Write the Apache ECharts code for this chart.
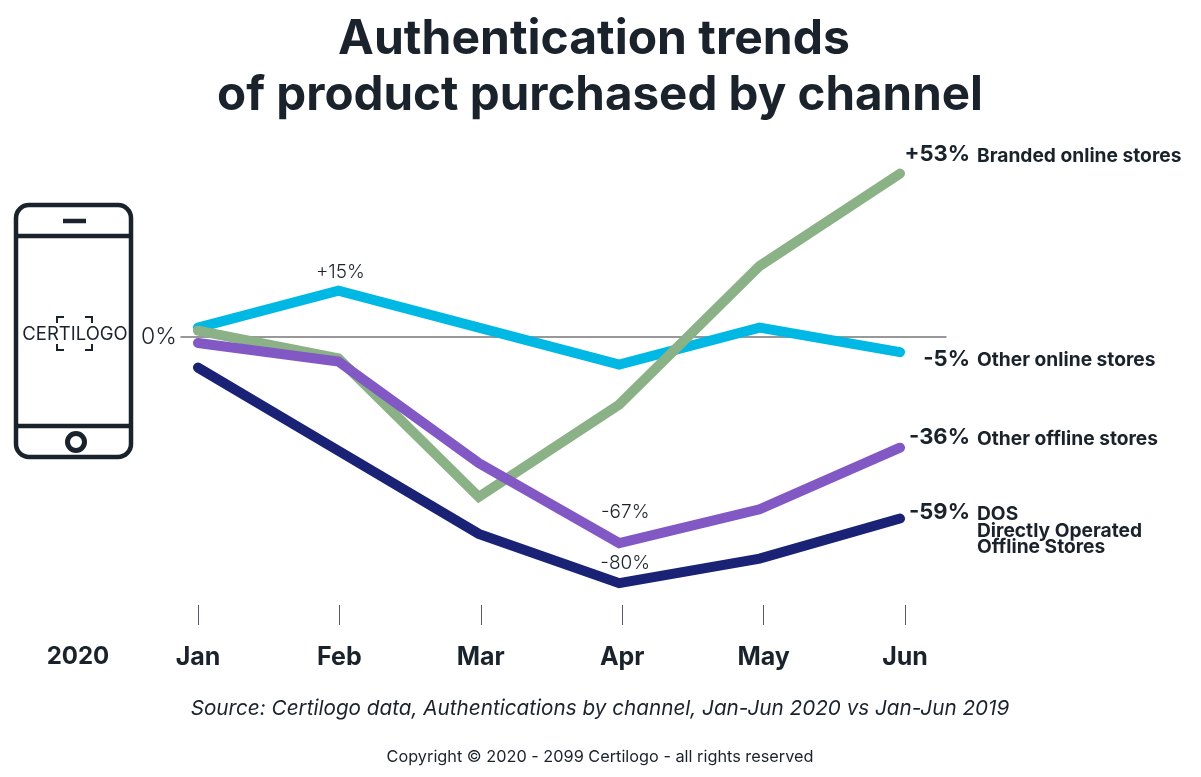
<!DOCTYPE html>
<html>
<head>
<meta charset="utf-8">
<title>Authentication trends</title>
<script src="https://cdn.jsdelivr.net/npm/echarts@6/dist/echarts.min.js"></script>
<style>
html, body { margin: 0; padding: 0; background: #fff; }
#main { width: 1201px; height: 777px; }
</style>
</head>
<body>
<div id="main"></div>
<script>
var months = ['Jan', 'Feb', 'Mar', 'Apr', 'May', 'Jun'];
var dos = [-10, -37, -64, -80, -72, -59];
var otherOnline = [3, 15, 3, -9, 3, -5];
var branded = [2, -7, -52, -22, 23, 53];
var otherOffline = [-2, -8, -41, -67, -56, -36];

var endPercents = ['+53%', '-5%', '-36%', '-59%'];
var endNames = ['Branded online stores', 'Other online stores', 'Other offline stores', 'DOS\nDirectly Operated\nOffline Stores'];

var FONT = 'Inter';
var DARK = '#1a222c';

// pixels per percent comes from the hidden y axes: 462px for 150 points
var plotTop = 152;
var plotHeight = 462;

function lineSeries(name, values, color, notes, noteOffset) {
    return {
        name: name,
        type: 'line',
        xAxisIndex: 0,
        yAxisIndex: 0,
        symbol: 'none',
        silent: true,
        animation: false,
        lineStyle: { color: color, width: 10, cap: 'round', join: 'miter' },
        data: values.map(function (v, i) {
            if (notes && notes[i]) {
                return {
                    value: v,
                    symbol: 'circle',
                    symbolSize: 0,
                    label: {
                        show: true,
                        position: 'top',
                        formatter: notes[i],
                        offset: noteOffset,
                        fontFamily: FONT,
                        fontWeight: 300,
                        fontSize: 19,
                        color: DARK
                    }
                };
            }
            return v;
        })
    };
}

function txt(x, y, text, size, weight, align, extra) {
    var style = {
        x: x, y: y, text: text,
        fontFamily: FONT, fontSize: size, fontWeight: weight,
        fill: DARK, textAlign: align, textVerticalAlign: 'middle'
    };
    for (var k in (extra || {})) style[k] = extra[k];
    return { type: 'text', style: style, silent: true };
}

function stroke(shapeType, shape, width) {
    return {
        type: shapeType, shape: shape, silent: true,
        style: { fill: 'none', stroke: DARK, lineWidth: width }
    };
}

// phone icon with the logo inside
var phone = [
    stroke('rect', { x: 16, y: 205, width: 115, height: 252, r: 13 }, 4.5),
    stroke('line', { x1: 16, y1: 236, x2: 131, y2: 236 }, 4.5),
    stroke('line', { x1: 16, y1: 426, x2: 131, y2: 426 }, 4.5),
    stroke('line', { x1: 63, y1: 221, x2: 86, y2: 221 }, 4.5),
    stroke('circle', { cx: 76, cy: 442, r: 8.5 }, 5),
    stroke('polyline', { points: [[57, 323], [57, 317], [64, 317]] }, 2),
    stroke('polyline', { points: [[85, 317], [92, 317], [92, 323]] }, 2),
    stroke('polyline', { points: [[57, 344], [57, 350], [64, 350]] }, 2),
    stroke('polyline', { points: [[85, 350], [92, 350], [92, 344]] }, 2),
    txt(75, 334, 'CERTILOGO', 18.5, 400, 'center')
];

var endY = [154, 359, 437, 512];
var nameY = [156, 360, 439, 531];
var endText = [];
endPercents.forEach(function (p, i) {
    endText.push(txt(970, endY[i], p, 22, 700, 'right'));
    endText.push(txt(977, nameY[i], endNames[i], 19.2, 700, 'left', { lineHeight: 16.5 }));
});

var myChart = echarts.init(document.getElementById('main'));
var option = {
    animation: false,
    backgroundColor: '#fff',
    textStyle: { fontFamily: FONT },
    title: [
        { text: 'Authentication trends', left: 589, top: 11, textAlign: 'center',
          textStyle: { fontFamily: FONT, fontSize: 48, fontWeight: 700, color: DARK } },
        { text: 'of product purchased by channel', left: 595, top: 67, textAlign: 'center',
          textStyle: { fontFamily: FONT, fontSize: 47.5, fontWeight: 700, color: DARK } }
    ],
    grid: [
        { left: 198, width: 702, top: plotTop, height: plotHeight },   // lines
        { left: 198, width: 707, top: 605, height: 20 },               // month ticks
        { left: 181, width: 765, top: plotTop, height: plotHeight }    // zero line
    ],
    xAxis: [
        { gridIndex: 0, type: 'category', boundaryGap: false, data: months, show: false },
        {
            gridIndex: 1, type: 'category', boundaryGap: false, data: months, position: 'bottom',
            axisLine: { show: false },
            axisTick: { show: true, inside: true, length: 20, alignWithLabel: true, lineStyle: { color: '#555b63', width: 1 } },
            axisLabel: { show: true, margin: 20, fontFamily: FONT, fontSize: 25, fontWeight: 700, color: DARK, interval: 0 }
        },
        {
            gridIndex: 2, type: 'value', min: 0, max: 1,
            axisLine: { show: true, onZero: true, lineStyle: { color: '#77777b', width: 1.5 } },
            axisTick: { show: false }, axisLabel: { show: false }, splitLine: { show: false }
        }
    ],
    yAxis: [
        { gridIndex: 0, type: 'value', min: -90, max: 60, show: false },
        { gridIndex: 1, type: 'value', min: 0, max: 1, show: false },
        {
            gridIndex: 2, type: 'value', min: -90, max: 60, interval: 10,
            axisLine: { show: false }, axisTick: { show: false }, axisLabel: { show: false }, splitLine: { show: false }
        }
    ],
    series: [
        lineSeries('DOS', dos, '#1a2275', { 3: '-80%' }, [6, -5]),
        lineSeries('Other online stores', otherOnline, '#00b8e4', { 1: '+15%' }, [2, -4]),
        lineSeries('Branded online stores', branded, '#8bb286'),
        lineSeries('Other offline stores', otherOffline, '#8158c4', { 3: '-67%' }, [6, -16])
    ],
    graphic: phone.concat(endText).concat([
        txt(159, 337, '0%', 23, 300, 'center'),
        txt(78, 657, '2020', 24, 700, 'center'),
        txt(600, 709, 'Source: Certilogo data, Authentications by channel, Jan-Jun 2020 vs Jan-Jun 2019', 20.7, 400, 'center', { fontStyle: 'italic' }),
        txt(600, 757, 'Copyright © 2020 - 2099 Certilogo - all rights reserved', 16.3, 400, 'center')
    ])
};
myChart.setOption(option);
</script>
</body>
</html>
